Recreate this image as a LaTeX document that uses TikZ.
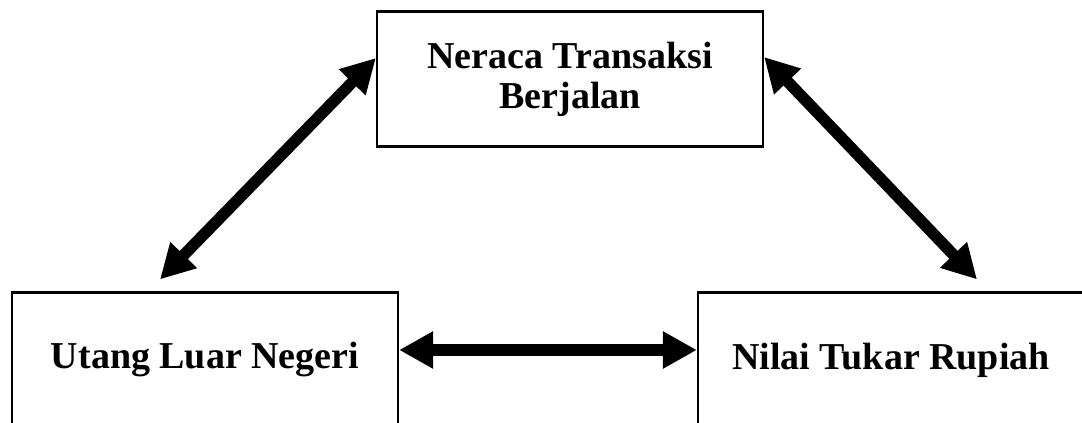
\documentclass[tikz,border=0pt]{standalone}
\usepackage{fontspec}
\setmainfont{Liberation Serif}
\usetikzlibrary{arrows.meta}
\tikzset{
  box/.style={draw=black, line width=2.2pt, fill=white, minimum width=386pt,
    minimum height=135pt, inner sep=0pt, align=center,
    font=\fontsize{38}{40}\selectfont\bfseries},
  link/.style={line width=11.5pt, {Triangle[length=34pt,width=35pt]}-{Triangle[length=34pt,width=35pt]}}
}
\begin{document}
\begin{tikzpicture}[x=1pt,y=-1pt]
  \clip (0,0) rectangle (1082,423);
  \fill[white] (0,0) rectangle (1082,423);
  % the three boxes
  \node[box] (nt) at (570,79) {Neraca Transaksi\\Berjalan};
  \node[box] (uln) at (205,360) {Utang Luar Negeri};
  \node[box] (ntr) at (891,360) {Nilai Tukar Rupiah};
  % arrow end points on the box borders
  \coordinate (ntL) at ([yshift=21pt]nt.west);
  \coordinate (ntR) at ([yshift=22pt]nt.east);
  \coordinate (ulnT) at ([xshift=-45pt,yshift=12pt]uln.north);
  \coordinate (ntrT) at ([xshift=86pt,yshift=12pt]ntr.north);
  \coordinate (ulnE) at ([yshift=10pt]uln.east);
  \coordinate (ntrW) at ([yshift=10pt]ntr.west);
  % two-way links
  \draw[link] (ulnT) -- (ntL);
  \draw[link] (ntR) -- (ntrT);
  \draw[link] (ulnE) -- (ntrW);
\end{tikzpicture}
\end{document}
